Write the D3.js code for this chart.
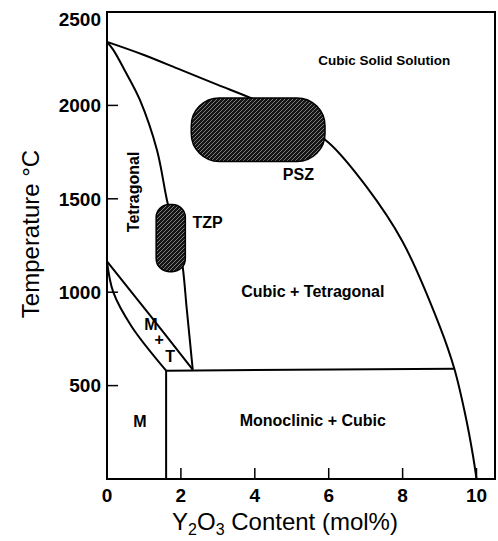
<!DOCTYPE html>
<html>
<head>
<meta charset="utf-8">
<script src="https://cdn.jsdelivr.net/npm/d3@7"></script>
<style>
  body { margin: 0; background: #fff; }
  text { font-family: "Liberation Sans", Arial, sans-serif; fill: #000; }
  .tick-label { font-size: 19px; font-weight: bold; }
  .region { font-size: 16px; font-weight: bold; }
  .region.small { font-size: 13.5px; }
  .axis-title { font-size: 24px; }
  .boundary { fill: none; stroke: #000; stroke-width: 2; }
</style>
</head>
<body>
<div id="chart"></div>
<script>
// Define SVG area dimensions
var svgWidth = 498;
var svgHeight = 541;

// Tick values
var xTickValues = [0, 2, 4, 6, 8, 10];
var yTickValues = [500, 1000, 1500, 2000, 2500];

// Phase boundaries, [mol% Y2O3, temperature]
var cubicBoundary = [[0, 2340], [1, 2270], [2, 2190], [3, 2110], [4, 2030], [5, 1930], [6, 1800],
  [7, 1570], [8, 1270], [9, 820], [9.4, 590], [9.7, 340], [9.9, 130], [10, 0]];
var tetragonalBoundary = [[0, 2340], [0.17, 2297], [0.5, 2180], [0.89, 2029], [1.35, 1762],
  [1.62, 1495], [1.85, 1300], [2.02, 1174], [2.16, 907], [2.32, 585]];
var mtUpper = [[0, 1165], [1.15, 880], [2.32, 585]];
var mtLower = [[0, 1165], [0.17, 1000], [0.67, 815], [1.6, 580]];
var eutectoidLine = [[1.6, 580], [9.4, 590]];
var monoclinicLine = [[1.6, 0], [1.6, 580]];

// Shaded ceramic regions
var zones = [
  {name: "PSZ", x0: 2.28, x1: 5.9, t0: 1700, t1: 2040, r: 28},
  {name: "TZP", x0: 1.33, x1: 2.12, t0: 1110, t1: 1470, r: 13}
];

// Region labels [text, mol%, temperature, rotated]
var regionLabels = [
  ["Cubic Solid Solution", 7.5, 2243, false],
  ["PSZ", 5.18, 1630, false],
  ["TZP", 2.72, 1375, false],
  ["Tetragonal", 0.7, 1537, true],
  ["Cubic + Tetragonal", 5.57, 1003, false],
  ["M", 1.19, 826, false],
  ["+", 1.41, 746, false],
  ["T", 1.71, 655, false],
  ["M", 0.89, 307, false],
  ["Monoclinic + Cubic", 5.57, 315, false]
];

var svg = d3.select("#chart")
  .append("svg")
  .attr("width", svgWidth)
  .attr("height", svgHeight);

// Hatch pattern for the shaded zones
var pattern = svg.append("defs").append("pattern")
  .attr("id", "hatch")
  .attr("patternUnits", "userSpaceOnUse")
  .attr("width", 4)
  .attr("height", 4);
pattern.append("rect").attr("width", 4).attr("height", 4).attr("fill", "#151515");
pattern.append("path")
  .attr("d", "M-1,1 l2,-2 M0,4 l4,-4 M3,5 l2,-2")
  .attr("stroke", "#aaa")
  .attr("stroke-width", 0.7);

// Scales
var x = d3.scaleLinear().domain([0, 10.5]).range([107, 495]);
var y = d3.scaleLinear().domain([0, 2500]).range([479, 12]);

var line = d3.line()
  .x(d => x(d[0]))
  .y(d => y(d[1]))
  .curve(d3.curveCatmullRom);

// boundaries
[cubicBoundary, tetragonalBoundary, mtUpper, mtLower].forEach(function(b) {
  svg.append("path").attr("class", "boundary").attr("d", line(b));
});
[eutectoidLine, monoclinicLine].forEach(function(b) {
  svg.append("path").attr("class", "boundary").attr("d", d3.line().x(d => x(d[0])).y(d => y(d[1]))(b));
});

// shaded zones
svg.selectAll(".zone")
  .data(zones)
  .enter()
  .append("rect")
  .attr("class", "zone")
  .attr("x", d => x(d.x0))
  .attr("y", d => y(d.t1))
  .attr("width", d => x(d.x1) - x(d.x0))
  .attr("height", d => y(d.t0) - y(d.t1))
  .attr("rx", d => d.r)
  .attr("fill", "url(#hatch)")
  .attr("stroke", "#000")
  .attr("stroke-width", 1.5);

// frame
svg.append("rect")
  .attr("x", x(0))
  .attr("y", y(2500))
  .attr("width", x(10.5) - x(0))
  .attr("height", y(0) - y(2500))
  .attr("fill", "none")
  .attr("stroke", "#000")
  .attr("stroke-width", 2);

// inward ticks
svg.append("g").selectAll("line")
  .data(yTickValues.filter(d => d < 2500))
  .enter()
  .append("line")
  .attr("x1", x(0)).attr("x2", x(0) + 11)
  .attr("y1", d => y(d)).attr("y2", d => y(d))
  .attr("stroke", "#000").attr("stroke-width", 1.5);
svg.append("g").selectAll("line")
  .data(xTickValues.filter(d => d > 0))
  .enter()
  .append("line")
  .attr("x1", d => x(d)).attr("x2", d => x(d))
  .attr("y1", y(0)).attr("y2", y(0) - 11)
  .attr("stroke", "#000").attr("stroke-width", 1.5);

// tick labels (top label pushed down so it stays on the page)
svg.append("g").selectAll("text")
  .data(yTickValues)
  .enter()
  .append("text")
  .attr("class", "tick-label")
  .attr("x", x(0) - 6)
  .attr("y", d => Math.max(y(d), 19))
  .attr("dy", "0.36em")
  .attr("text-anchor", "end")
  .text(d => d);
svg.append("g").selectAll("text")
  .data(xTickValues)
  .enter()
  .append("text")
  .attr("class", "tick-label")
  .attr("x", d => x(d))
  .attr("y", y(0) + 16)
  .attr("dy", "0.36em")
  .attr("text-anchor", "middle")
  .text(d => d);

// region labels
svg.append("g").selectAll("text")
  .data(regionLabels)
  .enter()
  .append("text")
  .attr("class", d => d[0] === "Cubic Solid Solution" ? "region small" : "region")
  .attr("text-anchor", "middle")
  .attr("dy", "0.36em")
  .attr("transform", d => `translate(${x(d[1])}, ${y(d[2])})` + (d[3] ? " rotate(-90)" : ""))
  .text(d => d[0]);

// axis titles
svg.append("text")
  .attr("class", "axis-title")
  .attr("text-anchor", "middle")
  .attr("transform", "translate(30, 234) rotate(-90)")
  .attr("dy", "0.36em")
  .text("Temperature \u00B0C");

var xTitle = svg.append("text")
  .attr("class", "axis-title")
  .attr("text-anchor", "middle")
  .attr("x", 285)
  .attr("y", 530);
xTitle.append("tspan").text("Y");
xTitle.append("tspan").attr("dy", 5).attr("font-size", "16px").text("2");
xTitle.append("tspan").attr("dy", -5).text("O");
xTitle.append("tspan").attr("dy", 5).attr("font-size", "16px").text("3");
xTitle.append("tspan").attr("dy", -5).text(" Content (mol%)");
</script>
</body>
</html>
